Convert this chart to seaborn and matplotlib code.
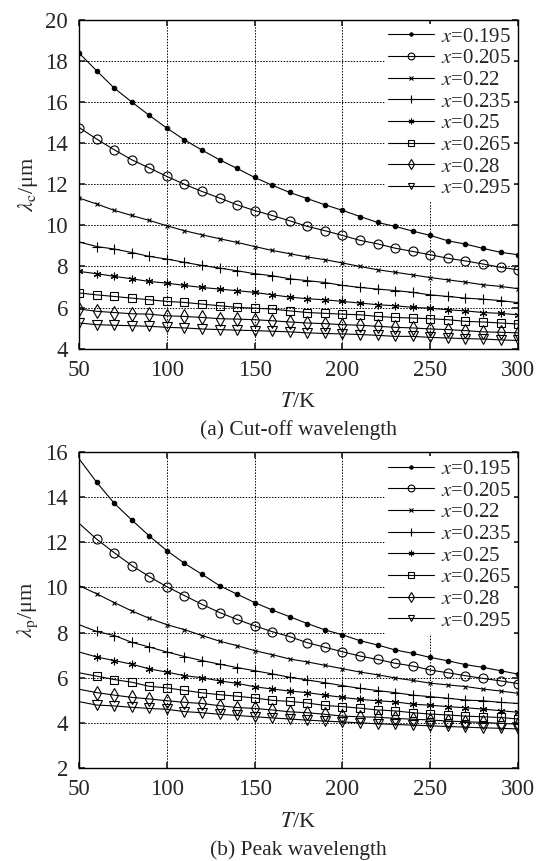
import matplotlib
matplotlib.use("Agg")
import matplotlib.pyplot as plt
import numpy as np
import seaborn as sns

sns.set_theme(style="ticks")
plt.rcParams["font.family"] = ["Liberation Serif", "DejaVu Serif"]
plt.rcParams["mathtext.fontset"] = "stix"

# temperatures (K), one value every 10 K
T = list(range(50, 301, 10))
X_LABELS = ["0.195", "0.205", "0.22", "0.235", "0.25", "0.265", "0.28", "0.295"]

# (a) cut-off wavelength, um
cut_0195 = [18.38, 17.52, 16.68, 16.0, 15.35, 14.73, 14.16, 13.66, 13.19, 12.77, 12.33, 11.95, 11.6,
            11.3, 11.0, 10.73, 10.43, 10.14, 9.95, 9.72, 9.51, 9.25, 9.09, 8.88, 8.69, 8.57]
cut_0205 = [14.76, 14.2, 13.68, 13.19, 12.79, 12.38, 12.0, 11.65, 11.33, 11.0, 10.72, 10.48, 10.22,
            9.95, 9.74, 9.51, 9.27, 9.1, 8.89, 8.73, 8.57, 8.4, 8.27, 8.12, 7.96, 7.84]
cut_022 = [11.33, 11.04, 10.73, 10.48, 10.24, 9.98, 9.74, 9.54, 9.35, 9.17, 8.97, 8.78, 8.62,
           8.46, 8.33, 8.17, 8.0, 7.84, 7.72, 7.59, 7.46, 7.35, 7.24, 7.11, 7.03, 6.92]
cut_0235 = [9.19, 8.97, 8.85, 8.68, 8.49, 8.36, 8.2, 8.05, 7.92, 7.79, 7.65, 7.55, 7.4,
            7.31, 7.22, 7.08, 6.98, 6.9, 6.83, 6.74, 6.62, 6.54, 6.46, 6.41, 6.34, 6.24]
cut_025 = [7.76, 7.65, 7.52, 7.4, 7.27, 7.19, 7.08, 6.98, 6.9, 6.82, 6.74, 6.62, 6.51,
           6.43, 6.38, 6.3, 6.22, 6.14, 6.09, 6.01, 5.97, 5.89, 5.84, 5.76, 5.72, 5.65]
cut_0265 = [6.71, 6.62, 6.54, 6.46, 6.38, 6.3, 6.25, 6.17, 6.09, 6.01, 5.97, 5.93, 5.84,
            5.76, 5.72, 5.68, 5.65, 5.57, 5.52, 5.49, 5.46, 5.41, 5.33, 5.3, 5.25, 5.2]
cut_028 = [5.93, 5.82, 5.76, 5.7, 5.68, 5.6, 5.57, 5.52, 5.46, 5.44, 5.41, 5.36, 5.3,
           5.25, 5.22, 5.17, 5.14, 5.09, 5.04, 5.01, 4.96, 4.93, 4.88, 4.82, 4.8, 4.77]
cut_0295 = [5.25, 5.17, 5.14, 5.12, 5.09, 5.04, 5.01, 4.96, 4.93, 4.9, 4.88, 4.85, 4.82,
            4.77, 4.74, 4.72, 4.69, 4.65, 4.6, 4.6, 4.55, 4.52, 4.49, 4.47, 4.43, 4.4]

# (b) peak wavelength, um
peak_0195 = [15.7, 14.66, 13.73, 12.99, 12.28, 11.63, 11.07, 10.58, 10.08, 9.7, 9.33, 9.0, 8.7,
             8.4, 8.12, 7.9, 7.64, 7.45, 7.23, 7.08, 6.9, 6.75, 6.58, 6.46, 6.31, 6.16]
peak_0205 = [12.84, 12.14, 11.54, 10.97, 10.48, 10.03, 9.64, 9.25, 8.89, 8.58, 8.3, 8.04, 7.82,
             7.55, 7.35, 7.15, 6.96, 6.81, 6.64, 6.52, 6.34, 6.22, 6.09, 5.97, 5.86, 5.74]
peak_022 = [10.08, 9.72, 9.33, 8.96, 8.63, 8.35, 8.13, 7.87, 7.62, 7.42, 7.2, 7.02, 6.83,
            6.7, 6.55, 6.4, 6.25, 6.13, 5.99, 5.88, 5.76, 5.68, 5.61, 5.5, 5.41, 5.31]
peak_0235 = [8.35, 8.05, 7.87, 7.57, 7.36, 7.14, 6.94, 6.76, 6.6, 6.45, 6.31, 6.17, 6.02,
             5.9, 5.78, 5.65, 5.53, 5.43, 5.34, 5.23, 5.16, 5.09, 5.01, 4.98, 4.91, 4.86]
peak_025 = [7.14, 6.92, 6.76, 6.6, 6.39, 6.25, 6.09, 6.0, 5.86, 5.75, 5.6, 5.5, 5.41,
            5.34, 5.23, 5.13, 5.04, 4.98, 4.93, 4.83, 4.78, 4.72, 4.67, 4.61, 4.54, 4.47]
peak_0265 = [6.22, 6.07, 5.92, 5.8, 5.62, 5.55, 5.44, 5.33, 5.25, 5.18, 5.1, 5.0, 4.95,
             4.88, 4.77, 4.72, 4.65, 4.57, 4.53, 4.45, 4.39, 4.35, 4.3, 4.27, 4.24, 4.17]
peak_028 = [5.49, 5.34, 5.23, 5.13, 5.06, 4.98, 4.91, 4.86, 4.76, 4.68, 4.64, 4.57, 4.49,
            4.45, 4.38, 4.3, 4.27, 4.25, 4.2, 4.16, 4.13, 4.08, 4.05, 4.02, 3.98, 3.94]
peak_0295 = [4.94, 4.79, 4.75, 4.69, 4.64, 4.6, 4.5, 4.45, 4.38, 4.33, 4.27, 4.22, 4.17,
             4.12, 4.08, 4.04, 4.0, 3.96, 3.93, 3.9, 3.87, 3.84, 3.81, 3.78, 3.76, 3.73]

CUT = [cut_0195, cut_0205, cut_022, cut_0235, cut_025, cut_0265, cut_028, cut_0295]
PEAK = [peak_0195, peak_0205, peak_022, peak_0235, peak_025, peak_0265, peak_028, peak_0295]

# marker, size, filled
STYLES = [("o", 3.2, True), ("o", 6.5, False), ("x", 3.5, True), ("+", 7, True),
          ((6, 2, 0), 5.5, True), ("s", 6, False), ("d", 7, False), ("v", 6.5, False)]


def draw(ax, series, ylim, yticks, ylabel, markevery):
    for lab, vals, (m, ms, filled) in zip(X_LABELS, series, STYLES):
        sns.lineplot(x=T, y=vals, ax=ax, color="black", lw=0.8, marker=m, ms=ms,
                     mfc="black" if filled else "none", mec="black", mew=0.8,
                     markevery=markevery, label=rf"$x$=0.{lab[2:]}")
    ax.set_xlim(50, 300)
    ax.set_ylim(*ylim)
    ax.set_xticks(range(50, 301, 50))
    ax.set_yticks(yticks)
    ax.grid(True, color="black", ls=(0, (1.5, 1.5)), lw=0.7)
    ax.tick_params(direction="in", top=True, right=True, length=4, labelsize=16.5, pad=8)
    for s in ax.spines.values():
        s.set_color("black")
        s.set_linewidth(1.0)
    ax.set_xlabel(r"$T$/K", fontsize=16, labelpad=9)
    ax.set_ylabel(ylabel, fontsize=16, labelpad=4)
    leg = ax.legend(loc="upper right", fontsize=15, handlelength=2.2, handletextpad=0.35,
                    labelspacing=0.1, borderaxespad=0.2, borderpad=0.15, markerscale=0.75,
                    frameon=True, fancybox=False)
    leg.get_frame().set_facecolor("white")
    leg.get_frame().set_edgecolor("none")
    leg.get_frame().set_alpha(1)


fig = plt.figure(figsize=(5.38, 8.61), dpi=100)
ax1 = fig.add_axes([0.147, 0.595, 0.816, 0.382])
ax2 = fig.add_axes([0.147, 0.108, 0.816, 0.367])

draw(ax1, CUT, (4, 20), range(4, 21, 2), r"$\lambda_{\rm c}$/μm", None)
draw(ax2, PEAK, (2, 16), range(2, 17, 2), r"$\lambda_{\rm p}$/μm", slice(1, None))

fig.text(0.555, 0.500, "(a) Cut-off wavelength", ha="center", va="center", fontsize=15.5)
fig.text(0.555, 0.013, "(b) Peak wavelength", ha="center", va="center", fontsize=15.5)

fig.savefig("out.png", dpi=100, facecolor="white")
